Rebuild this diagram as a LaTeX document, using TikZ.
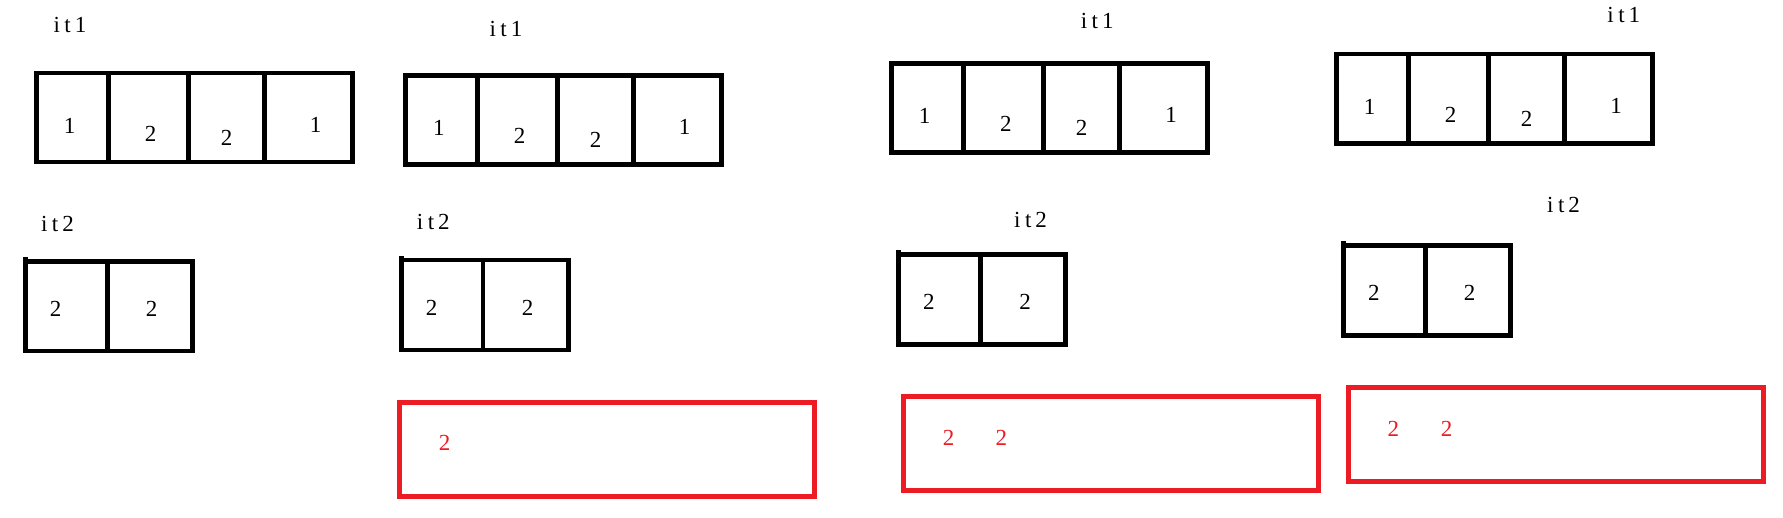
\documentclass[tikz,border=0pt]{standalone}
\usepackage{fontspec}
\setmainfont{Liberation Serif}
\definecolor{paintred}{RGB}{237,28,36}
\newcommand{\spacedlbl}[3]{#1\kern4.5pt#2\kern4pt#3}
\tikzset{
  lbl/.style={font=\fontsize{23}{28}\selectfont, inner sep=0pt, anchor=center},
  num/.style={lbl},
  rnum/.style={lbl, text=paintred},
  cellbox/.style={draw=black, line width=4.5pt},
  redbox/.style={draw=paintred, line width=4.5pt},
}
\begin{document}
\begin{tikzpicture}[x=1pt, y=-1pt]
\useasboundingbox (0,0) rectangle (1783,518);
\fill[white] (0,0) rectangle (1783,518);

% ---------- group 1 ----------
\node[lbl] (g1it1) at (70,25) {\spacedlbl{i}{t}{1}};
\draw[cellbox] (36.7,73.2) rectangle (352.3,161.8);
\draw[cellbox] (108.3,73.2) -- (108.3,161.8) (188.3,73.2) -- (188.3,161.8) (264.7,73.2) -- (264.7,161.8);
\node[num] (g1a1) at (69.5,125.8) {1};
\node[num] (g1a2) at (150.5,134) {2};
\node[num] (g1a3) at (226.5,138) {2};
\node[num] (g1a4) at (315.5,124.7) {1};
\node[lbl] (g1it2) at (57.5,224) {\spacedlbl{i}{t}{2}};
\draw[cellbox] (25.7,261.3) rectangle (192.3,351);
\draw[cellbox] (25.7,256.7) -- (25.7,262);
\draw[cellbox] (107.3,261.3) -- (107.3,351);
\node[num] (g1b1) at (55.7,309) {2};
\node[num] (g1b2) at (151.7,309) {2};

% ---------- group 2 ----------
\node[lbl] (g2it1) at (506,28.7) {\spacedlbl{i}{t}{1}};
\draw[cellbox] (405.6,75.6) rectangle (721.4,164.4);
\draw[cellbox] (477.7,75.6) -- (477.7,164.4) (557.7,75.6) -- (557.7,164.4) (633.7,75.6) -- (633.7,164.4);
\node[num] (g2a1) at (438.8,127.7) {1};
\node[num] (g2a2) at (519.5,136) {2};
\node[num] (g2a3) at (595.5,140.3) {2};
\node[num] (g2a4) at (684.7,126.7) {1};
\node[lbl] (g2it2) at (433.3,222.3) {\spacedlbl{i}{t}{2}};
\draw[cellbox] (401.3,260) rectangle (568.7,350);
\draw[cellbox] (401.3,256) -- (401.3,261);
\draw[cellbox] (483.2,260) -- (483.2,350);
\node[num] (g2b1) at (431.5,307.7) {2};
\node[num] (g2b2) at (527.5,307.7) {2};
\draw[redbox] (399.3,402.3) rectangle (814.3,496.7);
\node[rnum] (g2r1) at (444.7,443.3) {2};

% ---------- group 3 ----------
\node[lbl] (g3it1) at (1097.2,20.8) {\spacedlbl{i}{t}{1}};
\draw[cellbox] (891.3,63.3) rectangle (1207.7,152.3);
\draw[cellbox] (963.3,63.3) -- (963.3,152.3) (1043.3,63.3) -- (1043.3,152.3) (1119.3,63.3) -- (1119.3,152.3);
\node[num] (g3a1) at (924.7,115.8) {1};
\node[num] (g3a2) at (1005.8,124) {2};
\node[num] (g3a3) at (1081.5,128) {2};
\node[num] (g3a4) at (1171,115) {1};
\node[lbl] (g3it2) at (1030.5,219.8) {\spacedlbl{i}{t}{2}};
\draw[cellbox] (898.3,254.7) rectangle (1065.7,344.3);
\draw[cellbox] (898.3,250) -- (898.3,255.5);
\draw[cellbox] (980.7,254.7) -- (980.7,344.3);
\node[num] (g3b1) at (928.8,302) {2};
\node[num] (g3b2) at (1025,302) {2};
\draw[redbox] (903.3,396.7) rectangle (1318.7,490.3);
\node[rnum] (g3r1) at (948.5,437.5) {2};
\node[rnum] (g3r2) at (1001.3,437.5) {2};

% ---------- group 4 ----------
\node[lbl] (g4it1) at (1623.8,14.7) {\spacedlbl{i}{t}{1}};
\draw[cellbox] (1336.3,54) rectangle (1652.7,143.3);
\draw[cellbox] (1408.3,54) -- (1408.3,143.3) (1488.3,54) -- (1488.3,143.3) (1564.3,54) -- (1564.3,143.3);
\node[num] (g4a1) at (1369.7,106.8) {1};
\node[num] (g4a2) at (1450.7,115) {2};
\node[num] (g4a3) at (1526.7,119) {2};
\node[num] (g4a4) at (1616,106) {1};
\node[lbl] (g4it2) at (1563.5,205.3) {\spacedlbl{i}{t}{2}};
\draw[cellbox] (1343.3,245.7) rectangle (1510.7,335.3);
\draw[cellbox] (1343.3,240.7) -- (1343.3,246.5);
\draw[cellbox] (1425.7,245.7) -- (1425.7,335.3);
\node[num] (g4b1) at (1373.8,292.7) {2};
\node[num] (g4b2) at (1469.7,292.7) {2};
\draw[redbox] (1348.3,387.3) rectangle (1763.7,481.3);
\node[rnum] (g4r1) at (1393.3,428.7) {2};
\node[rnum] (g4r2) at (1446.7,428.7) {2};
\end{tikzpicture}
\end{document}
